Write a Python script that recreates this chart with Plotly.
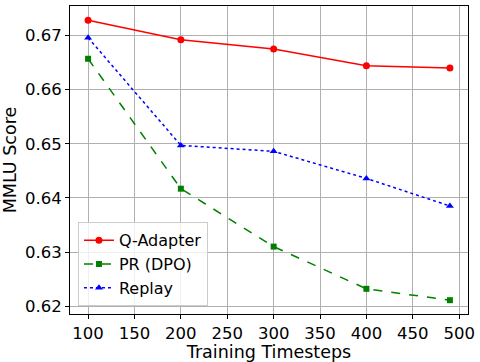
import plotly.graph_objects as go

steps = [100, 200, 300, 400, 490]
q_adapter = [0.6728, 0.6692, 0.6675, 0.6644, 0.6640]
pr_dpo = [0.6657, 0.6417, 0.6310, 0.6232, 0.6211]
replay = [0.6696, 0.6497, 0.6486, 0.6436, 0.6385]
x_ticks = [100, 150, 200, 250, 300, 350, 400, 450, 500]
y_ticks = [0.62, 0.63, 0.64, 0.65, 0.66, 0.67]

fig = go.Figure()
fig.add_trace(go.Scatter(x=steps, y=q_adapter, name="Q-Adapter", mode="lines+markers",
                         line=dict(color="red", width=1.5),
                         marker=dict(symbol="circle", size=7, color="red")))
fig.add_trace(go.Scatter(x=steps, y=pr_dpo, name="PR (DPO)", mode="lines+markers",
                         line=dict(color="green", width=1.5, dash="dash"),
                         marker=dict(symbol="square", size=6, color="green")))
fig.add_trace(go.Scatter(x=steps, y=replay, name="Replay", mode="lines+markers",
                         line=dict(color="blue", width=1.5, dash="dot"),
                         marker=dict(symbol="triangle-up", size=7, color="blue")))

axis_common = dict(showline=True, linecolor="black", linewidth=1, mirror=True,
                   ticks="outside", tickcolor="black", ticklen=4,
                   showgrid=True, gridcolor="#b0b0b0", gridwidth=1, zeroline=False,
                   tickfont=dict(size=16.5, color="black"), ticklabeloverflow="allow")
fig.update_xaxes(range=[80.5, 509.5], tickvals=x_ticks,
                 title=dict(text="Training Timesteps", font=dict(size=17.5, color="black"), standoff=2),
                 **axis_common)
fig.update_yaxes(range=[0.61855, 0.67545], tickvals=y_ticks, tickformat=".2f",
                 title=dict(text="MMLU Score", font=dict(size=17.5, color="black"), standoff=6),
                 **axis_common)
fig.update_layout(
    width=480, height=362,
    margin=dict(l=70, r=5, t=6, b=43),
    paper_bgcolor="white", plot_bgcolor="white",
    font=dict(family="DejaVu Sans", color="black"),
    legend=dict(x=0.02, y=0.025, xanchor="left", yanchor="bottom",
                bgcolor="rgba(255,255,255,0.8)", bordercolor="#cccccc", borderwidth=1,
                font=dict(size=16, color="black"), tracegroupgap=0),
)
fig.write_html("out.html")
